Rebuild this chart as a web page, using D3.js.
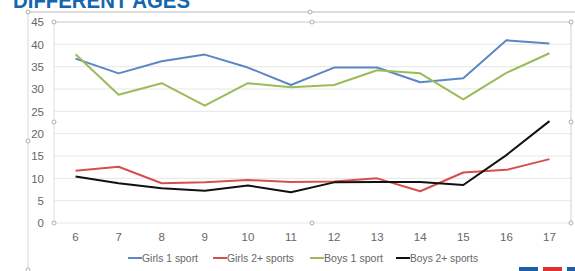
<!DOCTYPE html>
<html>
<head>
<meta charset="utf-8">
<script src="https://cdn.jsdelivr.net/npm/d3@7"></script>
<style>
  body { margin: 0; background: #fff; }
  svg { display: block; font-family: "Liberation Sans", Arial, sans-serif; }
</style>
</head>
<body>
<div id="chart"></div>
<script>
// ages along the x axis
var ages = ["6", "7", "8", "9", "10", "11", "12", "13", "14", "15", "16", "17"];
var yTicks = [0, 5, 10, 15, 20, 25, 30, 35, 40, 45];

// percentages
var girls1 = [36.8, 33.5, 36.2, 37.7, 34.8, 30.9, 34.8, 34.8, 31.5, 32.4, 40.9, 40.2];
var girls2 = [11.7, 12.6, 8.9, 9.1, 9.6, 9.2, 9.3, 10.0, 7.1, 11.3, 11.9, 14.3];
var boys1 = [37.8, 28.7, 31.3, 26.3, 31.3, 30.4, 30.9, 34.2, 33.5, 27.7, 33.6, 38.0];
var boys2 = [10.4, 8.9, 7.8, 7.2, 8.4, 6.9, 9.1, 9.2, 9.2, 8.5, 15.2, 22.8];

var seriesNames = ["Girls 1 sport", "Girls 2+ sports", "Boys 1 sport", "Boys 2+ sports"];
var seriesColors = ["#5b87c5", "#d4504c", "#9bbb59", "#111111"];
var seriesData = [girls1, girls2, boys1, boys2];

var W = 575, H = 271;
var plot = {left: 54, right: 571, top: 22, bottom: 223};

var svg = d3.select("#chart")
  .append("svg")
    .attr("width", W)
    .attr("height", H);

// cut-off slide title at the top
svg.append("text")
  .attr("x", 13)
  .attr("y", 8)
  .attr("textLength", 177)
  .attr("lengthAdjust", "spacingAndGlyphs")
  .style("font-size", "22px")
  .style("font-weight", "bold")
  .style("fill", "#1565b0")
  .text("DIFFERENT AGES");

// outer chart frame (selection box)
svg.append("line")
  .attr("x1", 28).attr("x2", W).attr("y1", 12).attr("y2", 12)
  .attr("stroke", "#d0d0d0").attr("stroke-width", 1.5);
svg.append("line")
  .attr("x1", 28).attr("x2", 28).attr("y1", 12).attr("y2", H)
  .attr("stroke", "#d9d9d9").attr("stroke-width", 1);

var x = d3.scaleBand()
  .domain(ages)
  .range([plot.left, plot.right]);

var y = d3.scaleLinear()
  .domain([0, 45])
  .range([plot.bottom, plot.top]);

// gridlines
svg.append("g")
  .selectAll("line")
  .data(yTicks)
  .enter()
  .append("line")
    .attr("x1", plot.left)
    .attr("x2", plot.right)
    .attr("y1", d => y(d))
    .attr("y2", d => y(d))
    .attr("stroke", d => d == 45 ? "#c8c8c8" : "#e6e6e6")
    .attr("stroke-width", 1);

// plot area left/right edges
svg.append("line")
  .attr("x1", plot.left).attr("x2", plot.left).attr("y1", plot.top).attr("y2", plot.bottom)
  .attr("stroke", "#e0e0e0");
svg.append("line")
  .attr("x1", plot.right).attr("x2", plot.right).attr("y1", plot.top).attr("y2", plot.bottom)
  .attr("stroke", "#d0d0d0");

// y axis labels
var yAxis = svg.append("g")
  .attr("transform", "translate(" + plot.left + ",0)")
  .call(d3.axisLeft(y).tickValues(yTicks).tickSize(0).tickPadding(10));
yAxis.select(".domain").remove();
yAxis.selectAll("text")
  .style("font-size", "11.5px")
  .style("fill", "#666")
  .style("font-family", "Liberation Sans, Arial, sans-serif");

// x axis labels
var xAxis = svg.append("g")
  .attr("transform", "translate(0," + plot.bottom + ")")
  .call(d3.axisBottom(x).tickSize(0).tickPadding(10));
xAxis.select(".domain").remove();
xAxis.selectAll("text")
  .style("font-size", "11.5px")
  .style("fill", "#666")
  .style("font-family", "Liberation Sans, Arial, sans-serif");

// lines
var line = d3.line()
  .x((d, i) => x(ages[i]) + x.bandwidth() / 2)
  .y(d => y(d));

seriesData.forEach(function(vals, k) {
  svg.append("path")
    .datum(vals)
    .attr("fill", "none")
    .attr("stroke", seriesColors[k])
    .attr("stroke-width", 2)
    .attr("stroke-linejoin", "round")
    .attr("d", line);
});

// selection handles
var handles = [[28, 12], [28, 141], [28, 270], [310, 12], [54, 22], [54, 122], [54, 223],
               [312, 22], [571, 22], [571, 122], [312, 223], [571, 223]];
svg.append("g")
  .selectAll("circle")
  .data(handles)
  .enter()
  .append("circle")
    .attr("cx", d => d[0])
    .attr("cy", d => d[1])
    .attr("r", 2)
    .attr("fill", "#fff")
    .attr("stroke", "#999")
    .attr("stroke-width", 0.8);

// legend
var legendX = [128, 213, 310, 396];
var legendW = [56, 67, 59, 68];
var legend = svg.append("g");
seriesNames.forEach(function(name, k) {
  legend.append("line")
    .attr("x1", legendX[k]).attr("x2", legendX[k] + 14)
    .attr("y1", 258).attr("y2", 258)
    .attr("stroke", seriesColors[k])
    .attr("stroke-width", 2);
  legend.append("text")
    .attr("x", legendX[k] + 14)
    .attr("y", 262)
    .attr("textLength", legendW[k])
    .attr("lengthAdjust", "spacingAndGlyphs")
    .style("font-size", "11.5px")
    .style("fill", "#666")
    .text(name);
});

// slide logo blocks at the bottom right
var blocks = [[519, "#1a5ea8"], [543, "#e03030"], [567, "#1a5ea8"]];
svg.selectAll(".blk")
  .data(blocks)
  .enter()
  .append("rect")
    .attr("x", d => d[0])
    .attr("y", 267)
    .attr("width", 19)
    .attr("height", 4)
    .attr("fill", d => d[1]);
</script>
</body>
</html>
